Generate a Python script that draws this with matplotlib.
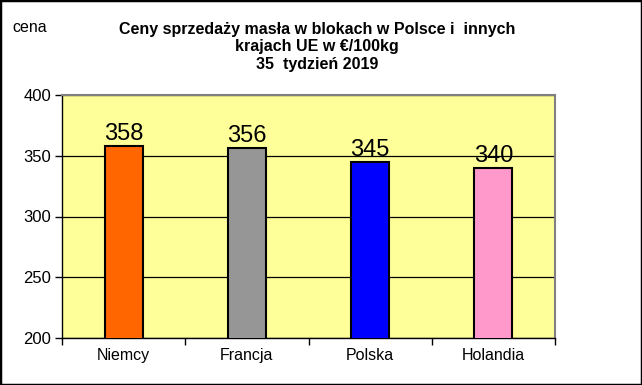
import matplotlib
matplotlib.use("Agg")
import matplotlib.pyplot as plt
from matplotlib.patches import Rectangle

categories = ["Niemcy", "Francja", "Polska", "Holandia"]
values = [358, 356, 345, 340]
labels = ["358", "356", "345", "340"]
colors = ["#FF6600", "#969696", "#0000FF", "#FF99CC"]
yticks = [200, 250, 300, 350, 400]

plt.rcParams['font.family'] = ['Liberation Sans', 'DejaVu Sans']

fig = plt.figure(figsize=(6.42, 3.85), dpi=100)
W, H = 642, 385
ax = fig.add_axes([62 / W, 1 - 338 / H, (555 - 62) / W, (338 - 95) / H])
ax.set_facecolor("#FFFF99")

x = list(range(len(categories)))
ax.bar(x, values, width=0.31, bottom=0, color=colors, edgecolor="black", linewidth=1.5, zorder=3)
ax.set_ylim(200, 400)
ax.set_xlim(-0.5, len(categories) - 0.5)
ax.set_yticks(yticks)
ax.set_yticklabels([str(t) for t in yticks], fontsize=12)
ax.yaxis.grid(True, color="black", linewidth=0.9, zorder=1)
ax.set_axisbelow(True)

ax.set_xticks(x)
ax.set_xticklabels(categories, fontsize=11.5)
ax.tick_params(axis='x', length=0, pad=7)
ax.set_xticks([i - 0.5 for i in range(len(categories) + 1)], minor=True)
ax.tick_params(axis='x', which='minor', length=5, width=1, direction='out')
ax.tick_params(axis='y', length=5, width=1, direction='out', pad=3)

for xi, v, lab in zip(x, values, labels):
    ax.text(xi, v + 1.0, lab, ha='center', va='bottom', fontsize=17, zorder=4)

for s in ['top', 'right']:
    ax.spines[s].set_color("#808080")
    ax.spines[s].set_linewidth(1.5)
for s in ['left', 'bottom']:
    ax.spines[s].set_color("black")
    ax.spines[s].set_linewidth(1)

fig.text(317 / W, 1 - 47 / H, "Ceny sprzedaży masła w blokach w Polsce i  innych\nkrajach UE w €/100kg\n35  tydzień 2019",
         ha='center', va='center', fontsize=11.5, fontweight='bold', linespacing=1.2)
fig.text(12 / W, 1 - 28 / H, "cena", ha='left', va='center', fontsize=11.5)

fig.patches.append(Rectangle((0, 0), 1, 1, transform=fig.transFigure, fill=False,
                             edgecolor="black", linewidth=2.5))
fig.savefig("out.png", dpi=100)
